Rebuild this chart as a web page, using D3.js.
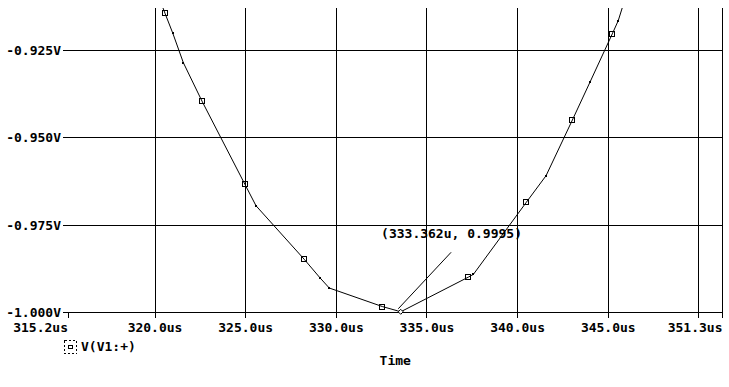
<!DOCTYPE html>
<html>
<head>
<meta charset="utf-8">
<script src="https://cdn.jsdelivr.net/npm/d3@7"></script>
<style>
  body { margin: 0; background: #fff; }
  text { font-family: "DejaVu Sans Mono", monospace; font-weight: bold; font-size: 13px; fill: #000; }
</style>
</head>
<body>
<script>
const timeUs = [320.27, 320.55, 320.98, 321.56, 322.59, 324.96, 325.57, 328.23, 329.10, 329.61,
  332.54, 333.36, 333.55, 337.28, 337.56, 340.48, 341.57, 343.02, 343.99, 345.22, 345.55, 345.87];
const voltage = [-0.9107, -0.9145, -0.9202, -0.9286, -0.9396, -0.9634, -0.9695, -0.9848, -0.9901, -0.9930,
  -0.9983, -0.9995, -0.9998, -0.9899, -0.9891, -0.9685, -0.9609, -0.9450, -0.9342, -0.9204, -0.9166, -0.9113];
const markerType = ["", "box", "dot", "dot", "box", "box", "dot", "box", "dot", "dot",
  "box", "", "diamond", "box", "dot", "box", "dot", "box", "dot", "box", "dot", ""];

const xGrid = [320, 325, 330, 335, 340, 345, 350, 351.3];
const xLabels = [315.2, 320, 325, 330, 335, 340, 345, 351.3];
const yTicks = [-0.925, -0.950, -0.975, -1.000];

const cursor = { t: 333.362, v: -0.9995, label: "(333.362u, 0.9995)" };
const pointerEnd = { t: 336.33, v: -0.9828 };
const seriesName = "V(V1:+)";
const xTitle = "Time";

const w = 729;
const h = 387;
const plot = { left: 68, right: 722.5, top: 8, bottom: 312.5 };

const x = d3.scaleLinear().domain([315.2, 351.3]).range([plot.left, plot.right]);
const y = d3.scaleLinear().domain([-1.0, -0.913]).range([plot.bottom, plot.top]);

const svg = d3.select("body").append("svg")
  .attr("width", w)
  .attr("height", h);

svg.append("rect").attr("width", w).attr("height", h).attr("fill", "#fff");

svg.append("clipPath").attr("id", "clip")
  .append("rect")
  .attr("x", plot.left).attr("y", plot.top)
  .attr("width", plot.right - plot.left).attr("height", plot.bottom - plot.top);

const grid = svg.append("g")
  .attr("stroke", "#000")
  .attr("stroke-width", 1)
  .attr("shape-rendering", "crispEdges");

// vertical grid, run a few px below the axis as ticks
grid.selectAll(".vg").data(xGrid).enter().append("line")
  .attr("x1", (d) => x(d)).attr("x2", (d) => x(d))
  .attr("y1", plot.top).attr("y2", plot.bottom + 5);

// start tick
grid.append("line")
  .attr("x1", x(315.2)).attr("x2", x(315.2))
  .attr("y1", plot.bottom).attr("y2", plot.bottom + 5);

// horizontal grid, run a few px left as ticks
grid.selectAll(".hg").data(yTicks).enter().append("line")
  .attr("x1", plot.left - 5).attr("x2", plot.right)
  .attr("y1", (d) => y(d)).attr("y2", (d) => y(d));

// x labels
svg.selectAll(".xl").data(xLabels).enter().append("text")
  .attr("x", (d) => x(d))
  .attr("y", plot.bottom + 19.5)
  .attr("text-anchor", (d, i) => (i === 0 || i === xLabels.length - 1 ? "end" : "middle"))
  .text((d) => d.toFixed(1) + "us");

// y labels
svg.selectAll(".yl").data(yTicks).enter().append("text")
  .attr("x", plot.left - 7)
  .attr("y", (d) => y(d) + 4.5)
  .attr("text-anchor", "end")
  .text((d) => d.toFixed(3) + "V");

// trace
const pts = timeUs.map((t, i) => ({ t, v: voltage[i], m: markerType[i] }));
const line = d3.line().x((d) => x(d.t)).y((d) => y(d.v));

const trace = svg.append("g").attr("clip-path", "url(#clip)");
trace.append("path")
  .datum(pts)
  .attr("d", line)
  .attr("fill", "none")
  .attr("stroke", "#000")
  .attr("stroke-width", 1);

trace.selectAll(".box").data(pts.filter((d) => d.m === "box")).enter().append("rect")
  .attr("x", (d) => Math.round(x(d.t)) - 2.5)
  .attr("y", (d) => Math.round(y(d.v)) - 2.5)
  .attr("width", 5).attr("height", 5)
  .attr("fill", "none").attr("stroke", "#000").attr("stroke-width", 1)
  .attr("shape-rendering", "crispEdges");

trace.selectAll(".dot").data(pts.filter((d) => d.m === "dot")).enter().append("rect")
  .attr("x", (d) => Math.round(x(d.t)) - 1)
  .attr("y", (d) => Math.round(y(d.v)) - 1)
  .attr("width", 2).attr("height", 2)
  .attr("fill", "#000");

svg.selectAll(".dia").data(pts.filter((d) => d.m === "diamond")).enter().append("path")
  .attr("d", (d) => {
    const cx = x(d.t), cy = y(d.v);
    return `M${cx},${cy - 2.5}L${cx + 2.5},${cy}L${cx},${cy + 2.5}L${cx - 2.5},${cy}Z`;
  })
  .attr("fill", "#fff").attr("stroke", "#000").attr("stroke-width", 1);

// cursor label + pointer
svg.append("line")
  .attr("x1", x(cursor.t) + 1).attr("y1", y(cursor.v) - 2)
  .attr("x2", x(pointerEnd.t)).attr("y2", y(pointerEnd.v))
  .attr("stroke", "#000").attr("stroke-width", 1);

svg.append("text")
  .attr("x", x(pointerEnd.t) - 70)
  .attr("y", y(pointerEnd.v) - 14.5)
  .text(cursor.label);

// legend
const lg = svg.append("g").attr("transform", "translate(64,340)");
lg.append("rect")
  .attr("x", 0.5).attr("y", 0.5).attr("width", 12).attr("height", 13)
  .attr("fill", "none").attr("stroke", "#000").attr("stroke-dasharray", "2,2")
  .attr("shape-rendering", "crispEdges");
lg.append("rect")
  .attr("x", 4.5).attr("y", 5.5).attr("width", 4).attr("height", 3)
  .attr("fill", "none").attr("stroke", "#000")
  .attr("shape-rendering", "crispEdges");
lg.append("text").attr("x", 17).attr("y", 11).text(seriesName);

// axis title
svg.append("text")
  .attr("x", (plot.left + plot.right) / 2)
  .attr("y", 365)
  .attr("text-anchor", "middle")
  .text(xTitle);
</script>
</body>
</html>
